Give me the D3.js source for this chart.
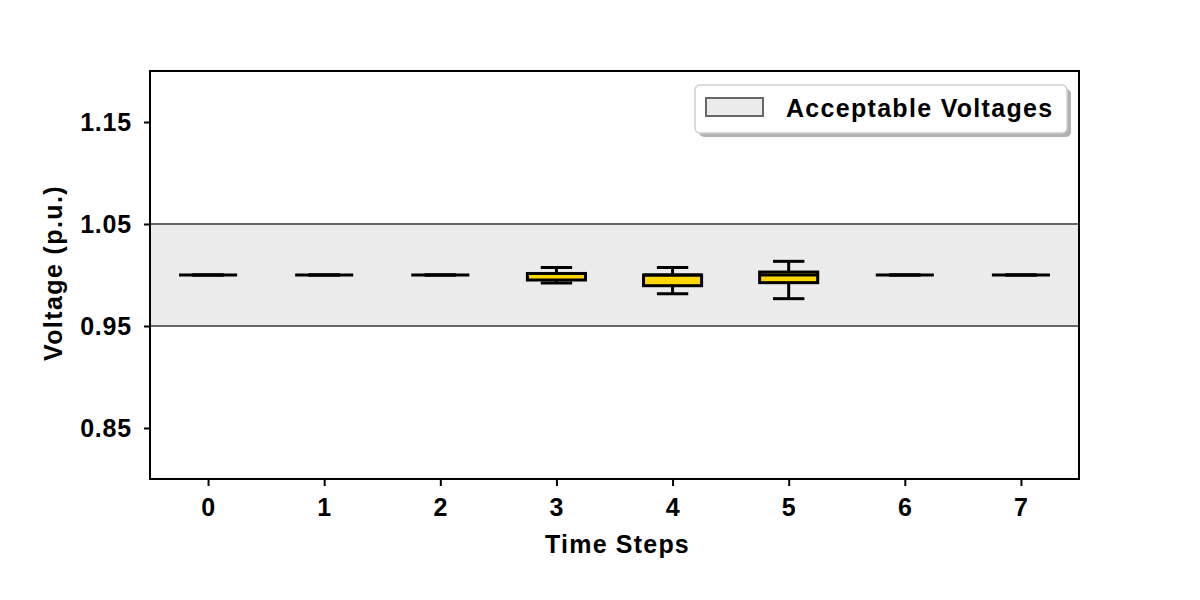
<!DOCTYPE html>
<html>
<head>
<meta charset="utf-8">
<script src="https://cdn.jsdelivr.net/npm/d3@7"></script>
<style>
    body { margin: 0; background: #fff; }
    svg text { font-family: "Liberation Sans", Arial, sans-serif; font-weight: bold; fill: #000; }
</style>
</head>
<body>
<svg id="chart" width="1200" height="600"></svg>
<script>
// time steps and box statistics (p.u.)
const steps = [0, 1, 2, 3, 4, 5, 6, 7];
const whiskerLow  = [1.0, 1.0, 1.0, 0.9922, 0.9817, 0.9768, 1.0, 1.0];
const q1          = [1.0, 1.0, 1.0, 0.9951, 0.9895, 0.9925, 1.0, 1.0];
const medians     = [1.0, 1.0, 1.0, 1.0015, 1.0,    1.0,    1.0, 1.0];
const q3          = [1.0, 1.0, 1.0, 1.0015, 1.0,    1.0029, 1.0, 1.0];
const whiskerHigh = [1.0, 1.0, 1.0, 1.0074, 1.0074, 1.0134, 1.0, 1.0];

const yTicks = [0.85, 0.95, 1.05, 1.15];
const band = [0.95, 1.05];
const legendLabel = "Acceptable Voltages";

const margin = { top: 71, right: 121, bottom: 121, left: 150 };
const width = 1200 - margin.left - margin.right;
const height = 600 - margin.top - margin.bottom;

const svg = d3.select('#chart');
const chart = svg.append('g')
    .attr('transform', `translate(${margin.left},${margin.top})`);

const xScale = d3.scaleLinear().domain([-0.5, 7.5]).range([0, width]);
const yScale = d3.scaleLinear().domain([0.8, 1.2]).range([height, 0]);

const boxWidth = xScale(0.5) - xScale(0);
const capWidth = xScale(0.27) - xScale(0);
const lw = 3;

// acceptable band
chart.append('rect')
    .attr('x', 0)
    .attr('width', width)
    .attr('y', yScale(band[1]))
    .attr('height', yScale(band[0]) - yScale(band[1]))
    .attr('fill', '#ebebeb');

chart.selectAll('.band-line')
    .data(band)
    .join('line')
    .classed('band-line', true)
    .attr('x1', 0).attr('x2', width)
    .attr('y1', d => yScale(d)).attr('y2', d => yScale(d))
    .attr('stroke', '#666').attr('stroke-width', 2);

// box plots
const boxes = steps.map((s, i) => ({
    step: s, lo: whiskerLow[i], q1: q1[i], med: medians[i], q3: q3[i], hi: whiskerHigh[i]
}));

const g = chart.selectAll('.box')
    .data(boxes)
    .join('g')
    .classed('box', true)
    .attr('transform', d => `translate(${xScale(d.step)},0)`);

g.append('line') // lower whisker
    .attr('x1', 0).attr('x2', 0)
    .attr('y1', d => yScale(d.q1)).attr('y2', d => yScale(d.lo))
    .attr('stroke', '#000').attr('stroke-width', lw);
g.append('line') // upper whisker
    .attr('x1', 0).attr('x2', 0)
    .attr('y1', d => yScale(d.q3)).attr('y2', d => yScale(d.hi))
    .attr('stroke', '#000').attr('stroke-width', lw);
g.selectAll('.cap')
    .data(d => [d.lo, d.hi])
    .join('line')
    .classed('cap', true)
    .attr('x1', -capWidth / 2).attr('x2', capWidth / 2)
    .attr('y1', d => yScale(d)).attr('y2', d => yScale(d))
    .attr('stroke', '#000').attr('stroke-width', lw);
g.append('rect')
    .attr('x', -boxWidth / 2)
    .attr('width', boxWidth)
    .attr('y', d => yScale(d.q3))
    .attr('height', d => yScale(d.q1) - yScale(d.q3))
    .attr('fill', '#ffd700')
    .attr('stroke', '#000').attr('stroke-width', lw);
g.append('line') // median
    .attr('x1', -boxWidth / 2).attr('x2', boxWidth / 2)
    .attr('y1', d => yScale(d.med)).attr('y2', d => yScale(d.med))
    .attr('stroke', '#000').attr('stroke-width', lw);

// axes
const xAxis = chart.append('g')
    .attr('transform', `translate(0,${height})`)
    .call(d3.axisBottom(xScale).tickValues(steps).tickFormat(d3.format('d')).tickSize(7).tickPadding(12));
const yAxis = chart.append('g')
    .call(d3.axisLeft(yScale).tickValues(yTicks).tickFormat(d3.format('.2f')).tickSize(6).tickPadding(12));

[xAxis, yAxis].forEach(a => {
    a.select('.domain').remove();
    a.selectAll('line').attr('stroke', '#000').attr('stroke-width', 2);
    a.selectAll('text')
        .attr('font-size', 25)
        .style('letter-spacing', '0.8px')
        .style('font-family', '"Liberation Sans", Arial, sans-serif')
        .style('font-weight', 'bold');
});

// frame
chart.append('rect')
    .attr('width', width).attr('height', height)
    .attr('fill', 'none')
    .attr('stroke', '#000').attr('stroke-width', 2);

// axis labels
svg.append('text')
    .attr('x', margin.left + width / 2 + 3)
    .attr('y', 553)
    .attr('text-anchor', 'middle')
    .attr('font-size', 25)
    .style('letter-spacing', '1.2px')
    .text('Time Steps');

svg.append('text')
    .attr('transform', 'translate(62,273) rotate(-90)')
    .attr('text-anchor', 'middle')
    .attr('font-size', 25)
    .style('letter-spacing', '1.4px')
    .text('Voltage (p.u.)');

// legend
const legend = svg.append('g');
legend.append('rect')
    .attr('x', 699).attr('y', 89)
    .attr('width', 372).attr('height', 48)
    .attr('rx', 5)
    .attr('fill', '#b3b3b3');
legend.append('rect')
    .attr('x', 695).attr('y', 85)
    .attr('width', 372).attr('height', 48)
    .attr('rx', 5)
    .attr('fill', '#fff')
    .attr('stroke', '#d0d0d0').attr('stroke-width', 1.5);
legend.append('rect')
    .attr('x', 706).attr('y', 98)
    .attr('width', 57).attr('height', 18)
    .attr('fill', '#ebebeb')
    .attr('stroke', '#666').attr('stroke-width', 2);
legend.append('text')
    .attr('x', 786).attr('y', 117)
    .attr('font-size', 25)
    .style('letter-spacing', '1.3px')
    .text(legendLabel);
</script>
</body>
</html>
